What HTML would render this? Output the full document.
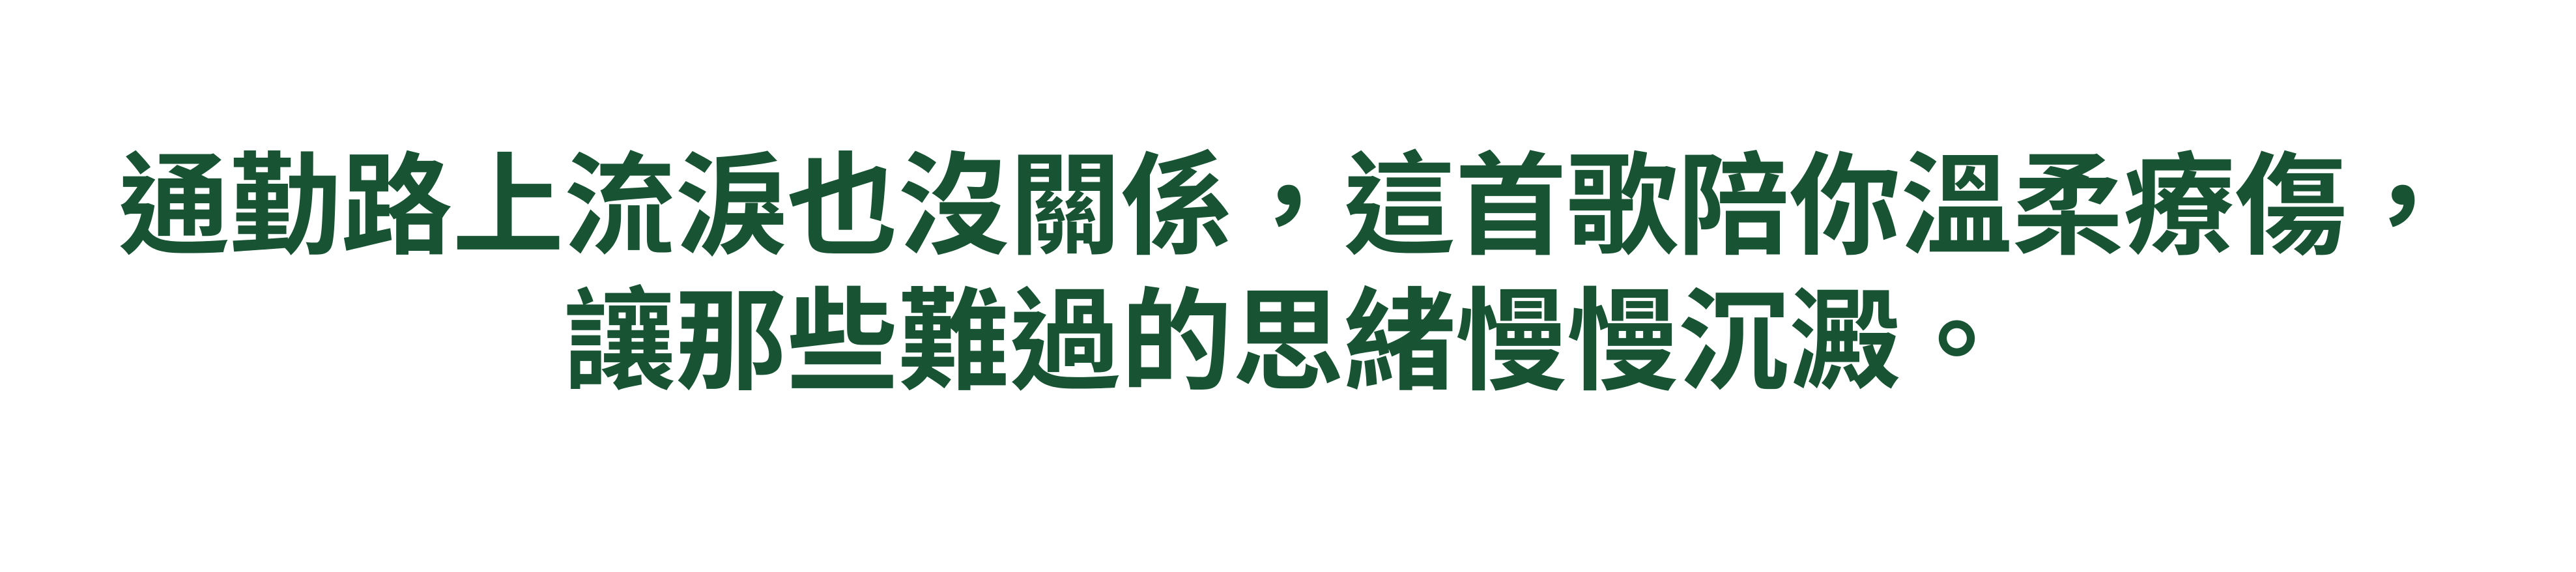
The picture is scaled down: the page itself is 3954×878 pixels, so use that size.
<!DOCTYPE html>
<html>
<head>
<meta charset="utf-8">
<style>
html,body{margin:0;padding:0;background:#fff;}
body{width:3954px;height:878px;position:relative;overflow:hidden;}
.line{position:absolute;left:0;width:3954px;text-align:center;
font-family:"Liberation Sans","Noto Sans CJK TC",sans-serif;font-weight:700;
font-size:171px;line-height:210px;color:#185434;white-space:nowrap;}
</style>
</head>
<body>
<div class="line" style="top:213px">通勤路上流淚也沒關係，這首歌陪你溫柔療傷，</div>
<div class="line" style="top:421px">讓那些難過的思緒慢慢沉澱。</div>
</body>
</html>
